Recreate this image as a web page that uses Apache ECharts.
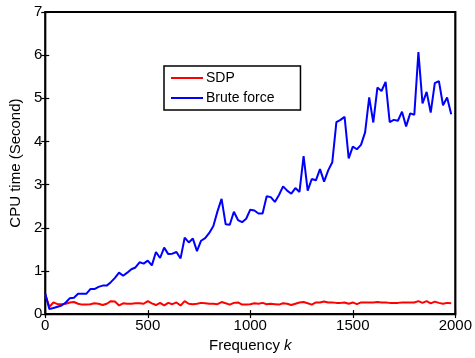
<!DOCTYPE html>
<html>
<head>
<meta charset="utf-8">
<style>
  html, body { margin: 0; padding: 0; background: #fff; }
  #chart { width: 475px; height: 358px; }
</style>
<script src="https://cdn.jsdelivr.net/npm/echarts@6/dist/echarts.min.js"></script>
</head>
<body>
<div id="chart"></div>
<script>
// Frequency samples k
const frequency = [
  0, 20, 40, 60, 80, 100, 120, 140, 160, 180,
  200, 220, 240, 260, 280, 300, 320, 340, 360, 380,
  400, 420, 440, 460, 480, 500, 520, 540, 560, 580,
  600, 620, 640, 660, 680, 700, 720, 740, 760, 780,
  800, 820, 840, 860, 880, 900, 920, 940, 960, 980,
  1000, 1020, 1040, 1060, 1080, 1100, 1120, 1140, 1160, 1180,
  1200, 1220, 1240, 1260, 1280, 1300, 1320, 1340, 1360, 1380,
  1400, 1420, 1440, 1460, 1480, 1500, 1520, 1540, 1560, 1580,
  1600, 1620, 1640, 1660, 1680, 1700, 1720, 1740, 1760, 1780,
  1800, 1820, 1840, 1860, 1880, 1900, 1920, 1940, 1960, 1980
];

// CPU time (seconds) of the SDP method
const sdpTime = [
  0.45, 0.17, 0.27, 0.23, 0.23, 0.24, 0.27, 0.28, 0.24, 0.22,
  0.22, 0.23, 0.25, 0.24, 0.21, 0.24, 0.30, 0.29, 0.20, 0.25,
  0.24, 0.24, 0.25, 0.25, 0.24, 0.30, 0.25, 0.21, 0.26, 0.20,
  0.26, 0.23, 0.27, 0.20, 0.30, 0.24, 0.23, 0.24, 0.26, 0.25,
  0.24, 0.24, 0.23, 0.28, 0.25, 0.22, 0.26, 0.27, 0.22, 0.22,
  0.23, 0.25, 0.24, 0.26, 0.23, 0.24, 0.23, 0.22, 0.25, 0.24,
  0.21, 0.24, 0.27, 0.28, 0.25, 0.22, 0.27, 0.27, 0.29, 0.27,
  0.27, 0.26, 0.26, 0.27, 0.24, 0.27, 0.23, 0.27, 0.27, 0.27,
  0.27, 0.28, 0.27, 0.27, 0.26, 0.26, 0.26, 0.27, 0.27, 0.27,
  0.27, 0.30, 0.26, 0.30, 0.25, 0.29, 0.26, 0.24, 0.26, 0.25
];

// CPU time (seconds) of the brute-force search
const bruteTime = [
  0.48, 0.12, 0.14, 0.17, 0.20, 0.27, 0.37, 0.38, 0.47, 0.47,
  0.47, 0.58, 0.58, 0.63, 0.66, 0.66, 0.74, 0.84, 0.96, 0.89,
  0.96, 1.04, 1.08, 1.20, 1.17, 1.24, 1.13, 1.44, 1.30, 1.54,
  1.39, 1.40, 1.44, 1.29, 1.77, 1.66, 1.75, 1.46, 1.70, 1.76,
  1.88, 2.04, 2.38, 2.67, 2.08, 2.07, 2.37, 2.18, 2.13, 2.21,
  2.42, 2.40, 2.33, 2.33, 2.73, 2.71, 2.60, 2.76, 2.96, 2.86,
  2.79, 2.92, 2.83, 3.66, 2.86, 3.13, 3.10, 3.36, 3.07, 3.33,
  3.52, 4.45, 4.50, 4.57, 3.61, 3.88, 3.82, 3.92, 4.21, 5.02,
  4.44, 5.25, 5.17, 5.38, 4.45, 4.50, 4.48, 4.69, 4.35, 4.65,
  4.62, 6.07, 4.88, 5.15, 4.67, 5.35, 5.40, 4.84, 5.02, 4.63
];

const xTicks = [0, 500, 1000, 1500, 2000];
const yTicks = [0, 1, 2, 3, 4, 5, 6, 7];

const seriesNames = ['SDP', 'Brute force'];

const FONT = '"Liberation Sans", Arial, Helvetica, sans-serif';

const pairs = (ys) => frequency.map((k, i) => [k, ys[i]]);

const chart = echarts.init(document.getElementById('chart'), null, { renderer: 'canvas' });

const tickStyle = { show: true, inside: true, length: 4, lineStyle: { color: '#000', width: 1.2 } };
const plainNumber = (v) => String(v);

chart.setOption({
  animation: false,
  backgroundColor: '#fff',
  textStyle: { fontFamily: FONT },
  grid: {
    left: 42, right: 17, top: 12, bottom: 42,
    show: true, borderColor: '#000', borderWidth: 2.2, backgroundColor: '#fff'
  },
  legend: {
    data: seriesNames,
    orient: 'vertical',
    left: 164, top: 66,
    padding: [5, 26, 5, 7],
    itemGap: 6,
    itemWidth: 32, itemHeight: 2,
    icon: 'rect',
    backgroundColor: '#fff',
    borderColor: '#000', borderWidth: 1.5,
    textStyle: { fontFamily: FONT, fontSize: 14, color: '#000', padding: [0, 0, 0, -2] }
  },
  xAxis: [{
    type: 'value',
    min: xTicks[0], max: xTicks[xTicks.length - 1], interval: 500,
    position: 'bottom',
    name: 'Frequency {i|k}',
    nameLocation: 'middle',
    nameGap: 22,
    nameTextStyle: {
      fontFamily: FONT, fontSize: 15, color: '#000',
      rich: { i: { fontStyle: 'italic', fontFamily: FONT, fontSize: 15, color: '#000' } }
    },
    axisLine: { show: false },
    axisTick: tickStyle,
    splitLine: { show: false },
    axisLabel: { color: '#000', fontSize: 15, fontFamily: FONT, margin: 4, formatter: plainNumber }
  }, {
    type: 'value',
    min: xTicks[0], max: xTicks[xTicks.length - 1], interval: 500,
    position: 'top',
    axisLine: { show: false },
    axisTick: tickStyle,
    splitLine: { show: false },
    axisLabel: { show: false }
  }],
  yAxis: [{
    type: 'value',
    min: yTicks[0], max: yTicks[yTicks.length - 1], interval: 1,
    position: 'left',
    name: 'CPU time (Second)',
    nameLocation: 'middle',
    nameGap: 17,
    nameTextStyle: { fontFamily: FONT, fontSize: 15, color: '#000' },
    axisLine: { show: false },
    axisTick: tickStyle,
    splitLine: { show: false },
    axisLabel: { color: '#000', fontSize: 15, fontFamily: FONT, margin: 3, formatter: plainNumber }
  }, {
    type: 'value',
    min: yTicks[0], max: yTicks[yTicks.length - 1], interval: 1,
    position: 'right',
    axisLine: { show: false },
    axisTick: tickStyle,
    splitLine: { show: false },
    axisLabel: { show: false }
  }],
  series: [{
    name: seriesNames[0],
    type: 'line',
    data: pairs(sdpTime),
    showSymbol: false,
    symbol: 'none',
    color: '#ff0000',
    lineStyle: { color: '#ff0000', width: 2 },
    z: 3
  }, {
    name: seriesNames[1],
    type: 'line',
    data: pairs(bruteTime),
    showSymbol: false,
    symbol: 'none',
    color: '#0000ff',
    lineStyle: { color: '#0000ff', width: 2 },
    z: 4
  }]
});
</script>
</body>
</html>
